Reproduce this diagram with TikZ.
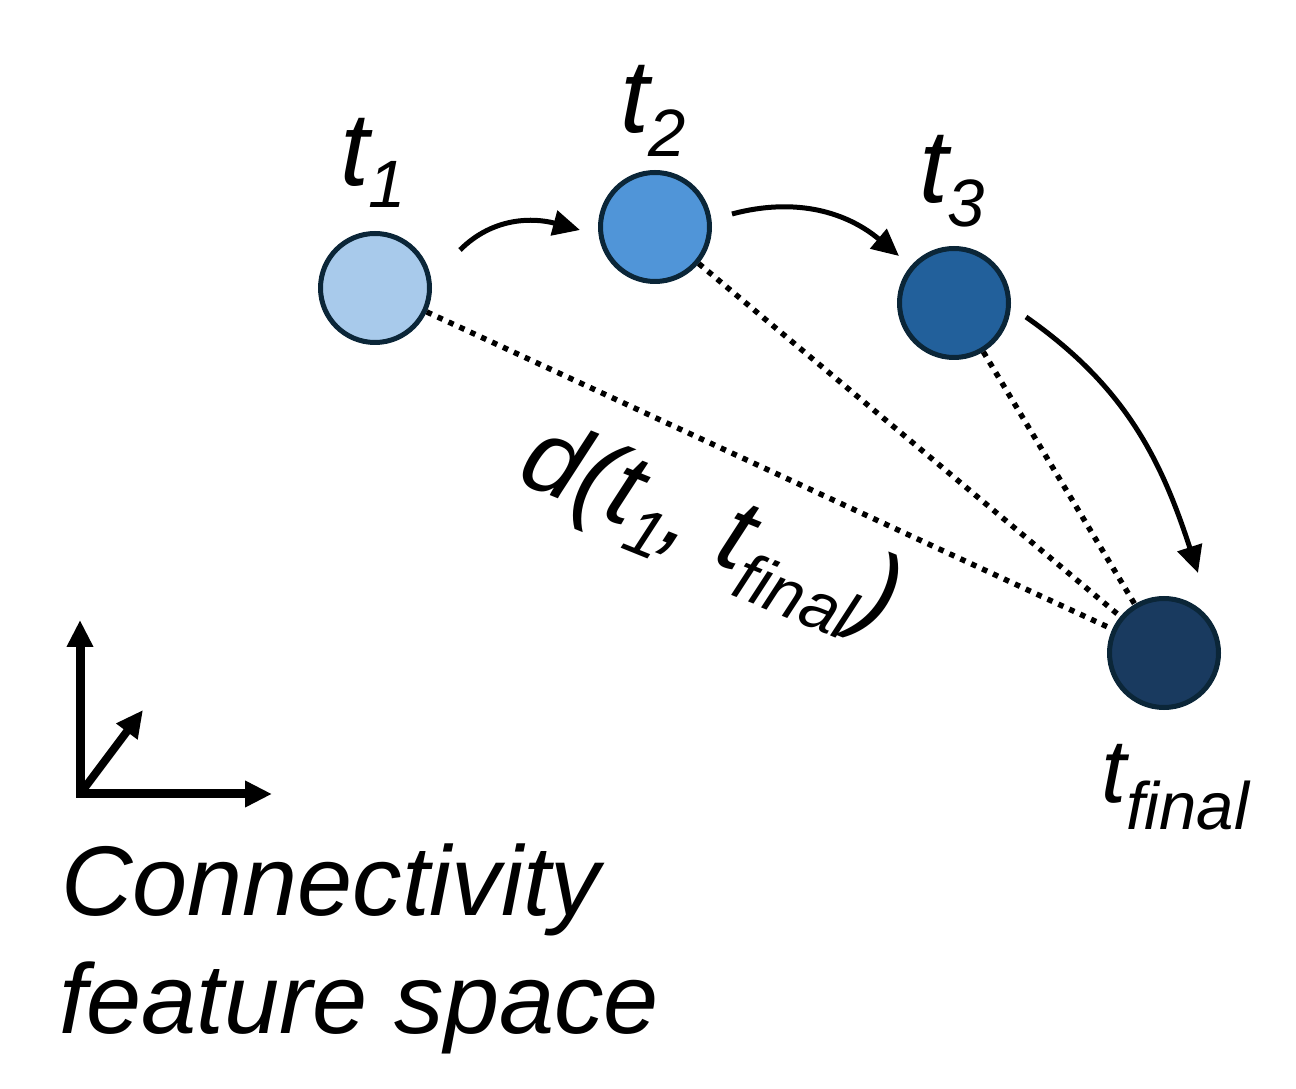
\documentclass[tikz,border=0pt]{standalone}
\usepackage{fontspec}
\setmainfont{Liberation Sans}
\usetikzlibrary{arrows.meta}
\definecolor{cA}{HTML}{A8CAEB}
\definecolor{cB}{HTML}{5095D8}
\definecolor{cC}{HTML}{22609B}
\definecolor{cD}{HTML}{193A5F}
\definecolor{rim}{HTML}{0B2638}
\newcommand\lowsub[3]{\raisebox{-#1pt}{\fontsize{#2}{#2}\selectfont #3}}
\begin{document}
\begin{tikzpicture}[x=1pt,y=1pt,
  tnode/.style={draw=rim,line width=5pt,circle,minimum size=109pt,inner sep=0pt},
  tlabel/.style={inner sep=0pt,outer sep=0pt,anchor=base west,font=\fontsize{104}{104}\selectfont\itshape},
  captxt/.style={inner sep=0pt,outer sep=0pt,anchor=base west,font=\fontsize{99}{118}\selectfont\itshape},
  distline/.style={line width=5.5pt,dash pattern=on 5.5pt off 6.5pt},
  trajarrow/.style={line width=5pt,-{Triangle[length=27pt,width=25pt]}},
  axline/.style={line width=9pt,line join=miter,{Triangle[length=27pt,width=25pt]}-{Triangle[length=27pt,width=25pt]}},
  axdiag/.style={line width=8pt,-{Triangle[length=27pt,width=25pt]}}]
\useasboundingbox (0,0) rectangle (1296,1088);
% nodes
\node[tnode,fill=cA] (t1) at (375,800) {};
\node[tnode,fill=cB] (t2) at (655,861) {};
\node[tnode,fill=cC] (t3) at (954,785) {};
\node[tnode,fill=cD] (tf) at (1164,435) {};
% labels
\node[tlabel] (l1) at (340,902) {t\lowsub{22}{67}{1}};
\node[tlabel] (l2) at (620,955) {t\lowsub{24}{67}{2}};
\node[tlabel] (l3) at (919,885) {t\lowsub{24}{67}{3}};
\node[tlabel,font=\fontsize{90}{90}\selectfont\itshape] (lf) at (1101,285) {t\lowsub{27}{67}{final}};
% distances
\draw[distline] (t1) -- (tf);
\draw[distline] (t2) -- (tf);
\draw[distline] (t3) -- (tf);
\node[tlabel,rotate=-22] (dl) at (515,606) {d(t\lowsub{22}{67}{1}\kern-4pt, t\lowsub{24}{67}{final})};
% trajectory arrows
\coordinate (a1s) at (460,838);
\coordinate (a1e) at (580,858);
\coordinate (a2s) at (732,874);
\coordinate (a2e) at (899,832);
\coordinate (a3s) at (1026,771);
\coordinate (a3e) at (1198,515);
\draw[trajarrow] (a1s) to[out=45,in=165] (a1e);
\draw[trajarrow] (a2s) to[out=15,in=140] (a2e);
\draw[trajarrow] (a3s) to[out=-35,in=108] (a3e);
% axes
\coordinate (ao) at (80,294);
\coordinate (ay) at (80,468);
\coordinate (ax) at (272,294);
\coordinate (ad) at (143,378);
\draw[axline] (ay) -- (ao) -- (ax);
\draw[axdiag] (ao) -- (ad);
% caption
\node[captxt] (c1) at (61,173) {Connectivity};
\node[captxt] (c2) at (59,55) {feature space};
\end{tikzpicture}
\end{document}
